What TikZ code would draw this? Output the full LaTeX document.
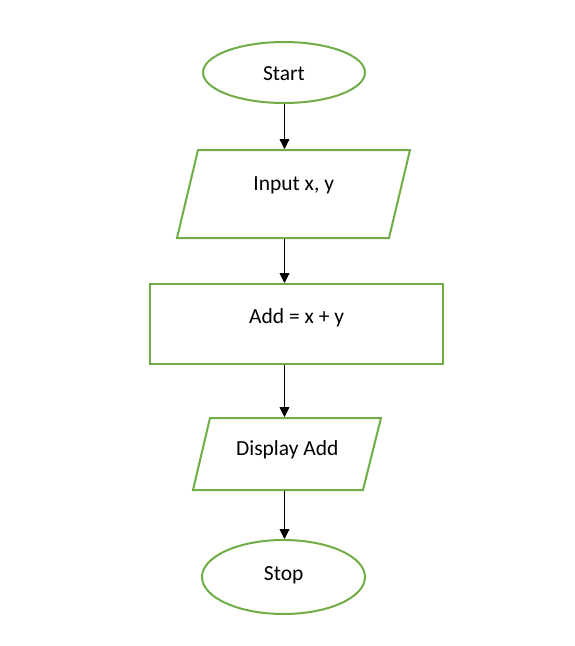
\documentclass[tikz,border=0pt]{standalone}
\usepackage{fontspec}
\setmainfont{Carlito}
\usetikzlibrary{shapes.geometric,arrows.meta}
\definecolor{grn}{HTML}{70AD47}
\begin{document}
\begin{tikzpicture}[x=1pt,y=-1pt,
  term/.style={ellipse,draw=grn,line width=2pt,inner sep=0pt},
  iopath/.style={draw=grn,line width=2pt,line join=miter},
  proc/.style={rectangle,draw=grn,line width=2pt,inner sep=0pt},
  lbl/.style={anchor=base,font=\fontsize{21.5}{26}\selectfont,inner sep=0pt},
  arr/.style={-{Triangle[length=10pt,width=10pt]},line width=0.8pt}]
\useasboundingbox[fill=white] (0,0) rectangle (574,646);
% shapes
\node[term,minimum width=162pt,minimum height=61pt] (start) at (284,72.5) {};
\draw[iopath] (198,150) -- (410,150) -- (389,238) -- (177,238) -- cycle;
\coordinate (in-n) at (284.5,149);
\coordinate (in-s) at (284.5,239);
\node[proc,minimum width=293pt,minimum height=80pt] (add) at (296.5,324) {};
\draw[iopath] (210,418) -- (381,418) -- (363,490) -- (193,490) -- cycle;
\coordinate (disp-n) at (284.5,417);
\coordinate (disp-s) at (284.5,491);
\node[term,minimum width=163pt,minimum height=74pt] (stop) at (283.5,577) {};
% labels
\node[lbl] (tstart) at (284,80.7) {Start};
\node[lbl] (tin) at (293.7,190) {Input x, y};
\node[lbl] (tadd) at (296.7,323.3) {Add = x + y};
\node[lbl] (tdisp) at (287.3,455) {Display Add};
\node[lbl] (tstop) at (283.7,580) {Stop};
% connectors
\coordinate (ax) at (284.5,0);
\draw[arr] (ax |- start.south) -- (in-n);
\draw[arr] (in-s) -- (ax |- add.north);
\draw[arr] (ax |- add.south) -- (disp-n);
\draw[arr] (disp-s) -- (ax |- stop.north);
\end{tikzpicture}
\end{document}
